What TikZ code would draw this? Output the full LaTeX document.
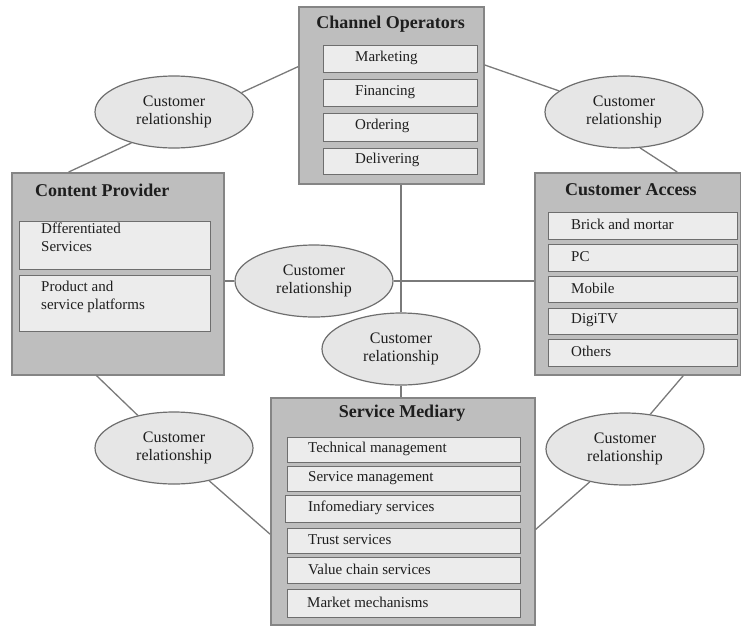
\documentclass[tikz,border=0pt]{standalone}
\usepackage{fontspec}
\setmainfont{Liberation Serif}
\usetikzlibrary{calc,shapes.geometric}

\definecolor{outerfill}{HTML}{BEBEBE}
\definecolor{outerline}{HTML}{858585}
\definecolor{innerfill}{HTML}{ECECEC}
\definecolor{innerline}{HTML}{6E6E6E}
\definecolor{ellfill}{HTML}{E6E6E6}
\definecolor{ellline}{HTML}{6E6E6E}
\definecolor{linkline}{HTML}{7A7A7A}
\definecolor{ink}{HTML}{1E1E1E}

% one line item inside a group: name, left x, top y, bottom y, width, text indent, text
\newcommand\mypart[7]{%
  \node[part, minimum width=#5, minimum height={#4-#3}] (#1) at (#2,#3) {};
  \node[itext, anchor=west] (#1t) at ($(#1.west)+(#6,-1.5)$) {#7};}

\begin{document}
\begin{tikzpicture}[x=1pt,y=-1pt,
  group/.style={draw=outerline, fill=outerfill, line width=1.5pt, anchor=north west, inner sep=0pt},
  part/.style={draw=innerline, fill=innerfill, line width=1.4pt, anchor=north west, inner sep=0pt},
  title/.style={font=\bfseries\fontsize{18}{20}\selectfont, text=ink, inner sep=0pt},
  itext/.style={font=\fontsize{15}{18}\selectfont, text=ink, inner sep=0pt, align=left},
  relation/.style={ellipse, draw=ellline, fill=ellfill, line width=1.2pt,
    minimum width=158pt, minimum height=72pt, inner sep=0pt, align=center,
    font=\fontsize{16}{18}\selectfont, text=ink},
  link/.style={draw=linkline, line width=1.3pt}]

\useasboundingbox (0,0) rectangle (741,627);

% ---- Channel Operators
\node[group, minimum width=185, minimum height=177] (co) at (298,6) {};
\node[title] (cot) at (390.5,24) {Channel Operators};
\mypart{co1}{323}{45}{72}{154}{32}{Marketing}
\mypart{co2}{323}{79}{106}{154}{32}{Financing}
\mypart{co3}{323}{113}{141}{154}{32}{Ordering}
\mypart{co4}{323}{148}{174}{154}{32}{Delivering}

% ---- Content Provider
\node[group, minimum width=212, minimum height=202] (cp) at (11,172) {};
\node[title, anchor=west] (cpt) at (35,190) {Content Provider};
\node[part, minimum width=191, minimum height=48] (cp1) at (19,221) {};
\node[itext, anchor=north west] (cp1t) at ($(cp1.north west)+(22,2)$) {Dfferentiated\\Services};
\node[part, minimum width=191, minimum height=56] (cp2) at (19,275) {};
\node[itext, anchor=north west] (cp2t) at ($(cp2.north west)+(22,6)$) {Product and\\service platforms};

% ---- Customer Access
\node[group, minimum width=206, minimum height=202] (ca) at (534,172) {};
\node[title, anchor=west] (cat) at (565,190) {Customer Access};
\mypart{ca1}{548}{212}{239}{189}{23}{Brick and mortar}
\mypart{ca2}{548}{244}{271}{189}{23}{PC}
\mypart{ca3}{548}{276}{302}{189}{23}{Mobile}
\mypart{ca4}{548}{308}{334}{189}{23}{DigiTV}
\mypart{ca5}{548}{339}{366}{189}{23}{Others}

% ---- Service Mediary
\node[group, minimum width=264, minimum height=227] (sm) at (270,397) {};
\node[title] (smt) at (402,413) {Service Mediary};
\mypart{sm1}{287}{437}{462}{233}{21}{Technical management}
\mypart{sm2}{287}{466}{491}{233}{21}{Service management}
\mypart{sm3}{285}{495}{522}{235}{23}{Infomediary services}
\mypart{sm4}{287}{528}{553}{233}{21}{Trust services}
\mypart{sm5}{287}{557}{583}{233}{21}{Value chain services}
\mypart{sm6}{287}{589}{617}{233}{20}{Market mechanisms}

% ---- relationship ellipses
\node[relation] (e1) at (174,112) {Customer\\relationship};
\node[relation] (e2) at (624,112) {Customer\\relationship};
\node[relation] (e3) at (174,448) {Customer\\relationship};
\node[relation] (e4) at (625,449) {Customer\\relationship};
\node[relation] (e5) at (314,281) {Customer\\relationship};
\node[relation] (e6) at (401,349) {Customer\\relationship};

% ---- connectors
\draw[link] (e1.16) -- ($(co.north west)!0.34!(co.south west)$);
\draw[link] (e1.216) -- ($(cp.north west)!0.27!(cp.north east)$);
\draw[link] (e2.162) -- ($(co.north east)!0.33!(co.south east)$);
\draw[link] (e2.-66) -- ($(ca.north west)!0.69!(ca.north east)$);
\draw[link] (e3.138) -- ($(cp.south west)!0.40!(cp.south east)$);
\draw[link] (e3.-43) -- ($(sm.north west)!0.60!(sm.south west)$);
\draw[link] (e4.54) -- ($(ca.south west)!0.72!(ca.south east)$);
\draw[link] (e4.223) -- ($(sm.north east)!0.58!(sm.south east)$);
\draw[link] (e5.west) -- (e5.west -| cp.east);
\draw[link] (e5.east) -- (e5.east -| ca.west);
\draw[link] (e6.north) -- (e6.north |- co.south);
\draw[link] (e6.south) -- (e6.south |- sm.north);

\end{tikzpicture}
\end{document}
